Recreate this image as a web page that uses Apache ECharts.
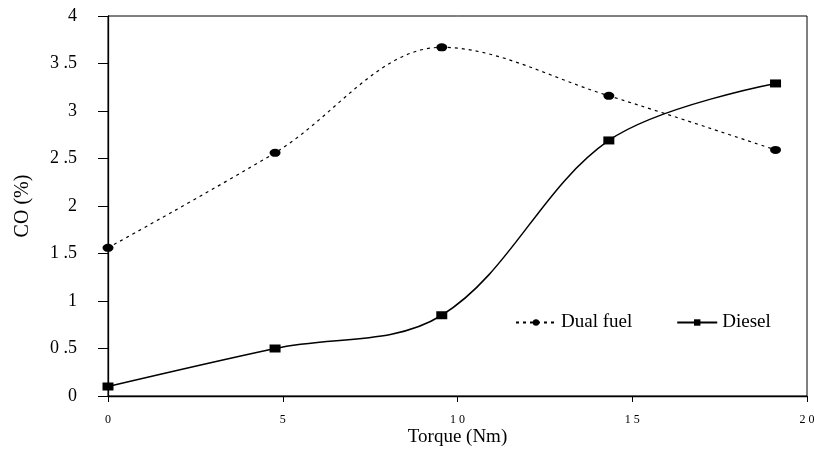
<!DOCTYPE html>
<html>
<head>
<meta charset="utf-8">
<script src="https://cdn.jsdelivr.net/npm/echarts@6/dist/echarts.min.js"></script>
<style>
  html, body { margin: 0; padding: 0; background: #fff; }
  #chart { width: 814px; height: 451px; }
</style>
</head>
<body>
<div id="chart"></div>
<script>
// torque (Nm) at each load step
let torque = [0, 4.78, 9.55, 14.33, 19.1];
// CO (%)
let dualFuel = [1.56, 2.56, 3.67, 3.16, 2.59];
let diesel = [0.1, 0.5, 0.85, 2.69, 3.29];
// tick labels as printed
let xTickLabels = ['0', '5', '1 0', '1 5', '2 0'];
let yTickLabels = ['0', '0 .5', '1', '1 .5', '2', '2 .5', '3', '3 .5', '4'];

let font = '"Liberation Serif", "Times New Roman", serif';

function pairs(xs, ys) {
    let out = [];
    for (let i = 0; i < xs.length; i++) {
        out.push([xs[i], ys[i]]);
    }
    return out;
}

let option = {
    animation: false,
    backgroundColor: '#fff',
    textStyle: { fontFamily: font, color: '#000' },
    grid: {
        left: 108,
        right: 7,
        top: 16,
        bottom: 55,
        outerBoundsMode: 'none',
        containLabel: false,
        show: true,
        borderColor: '#000',
        borderWidth: 1
    },
    legend: {
        left: 510,
        top: 308,
        itemWidth: 40,
        itemHeight: 8,
        itemGap: 44,
        textStyle: { fontFamily: font, fontSize: 19, color: '#000' },
        data: ['Dual fuel', 'Diesel']
    },
    xAxis: {
        type: 'value',
        min: 0,
        max: 20,
        interval: 5,
        name: 'Torque (Nm)',
        nameLocation: 'middle',
        nameGap: 32,
        nameMoveOverlap: false,
        nameTextStyle: { fontFamily: font, fontSize: 19, color: '#000' },
        splitLine: { show: false },
        axisLine: { show: true, lineStyle: { color: '#000', width: 1.3 } },
        axisTick: { show: true, inside: false, length: 6, lineStyle: { color: '#000' } },
        axisLabel: {
            margin: 18,
            fontFamily: font,
            fontSize: 12,
            color: '#000',
            formatter: function (v) {
                return xTickLabels[Math.round(v / 5)];
            }
        }
    },
    yAxis: {
        type: 'value',
        min: 0,
        max: 4,
        interval: 0.5,
        name: 'CO (%)',
        nameLocation: 'middle',
        nameGap: 75,
        nameMoveOverlap: false,
        nameTextStyle: { fontFamily: font, fontSize: 20, color: '#000' },
        splitLine: { show: false },
        axisLine: { show: true, lineStyle: { color: '#000', width: 1.3 } },
        axisTick: { show: true, inside: false, length: 10, lineStyle: { color: '#000' } },
        axisLabel: {
            margin: 31,
            fontFamily: font,
            fontSize: 18,
            color: '#000',
            formatter: function (v) {
                return yTickLabels[Math.round(v / 0.5)];
            }
        }
    },
    series: [{
        name: 'Dual fuel',
        type: 'line',
        smooth: 0.35,
        data: pairs(torque, dualFuel),
        symbol: 'circle',
        symbolSize: [11, 8],
        itemStyle: { color: '#000' },
        lineStyle: { color: '#000', width: 1.2, type: [3, 4] }
    }, {
        name: 'Diesel',
        type: 'line',
        smooth: 0.35,
        data: pairs(torque, diesel),
        symbol: 'rect',
        symbolSize: [11, 8],
        itemStyle: { color: '#000' },
        lineStyle: { color: '#000', width: 1.5, type: 'solid' }
    }]
};

let myChart = echarts.init(document.getElementById('chart'));
myChart.setOption(option);
</script>
</body>
</html>
